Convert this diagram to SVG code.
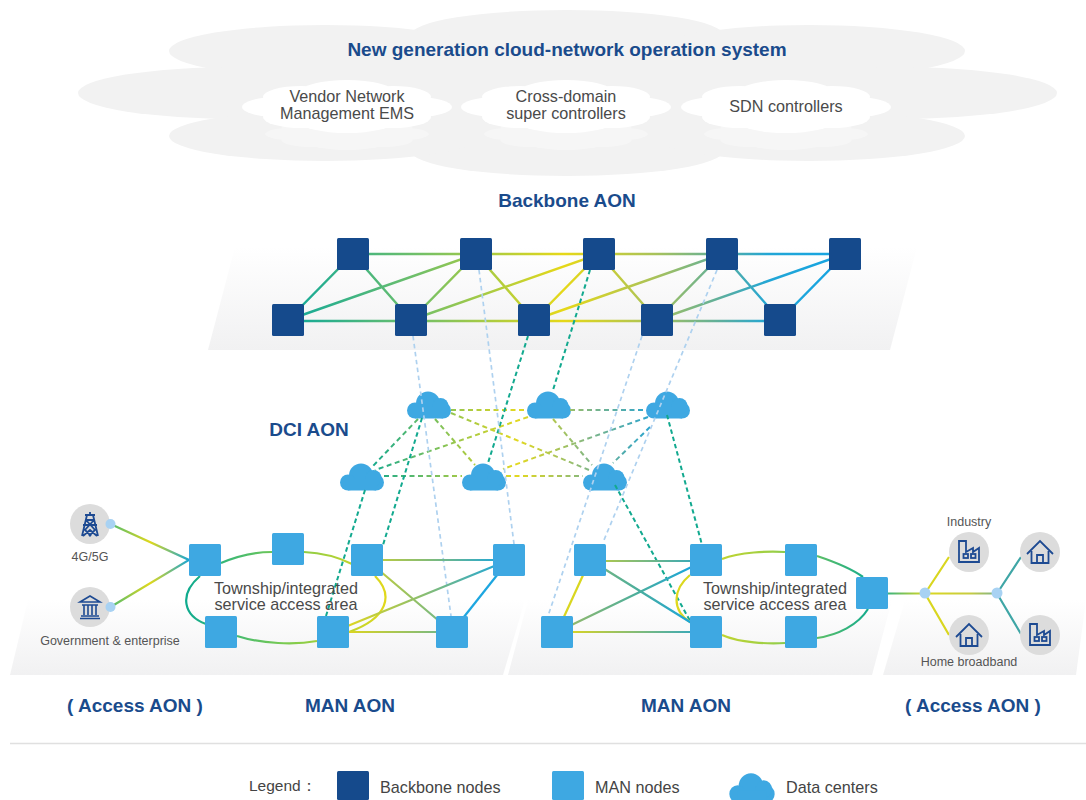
<svg xmlns="http://www.w3.org/2000/svg" width="1086" height="800" viewBox="0 0 1086 800">
<style>
text{font-family:"Liberation Sans",Arial,sans-serif}
.h{font-weight:bold;fill:#1a4b8c;font-size:19px;text-anchor:middle}
.c{fill:#4a4a4a;font-size:16.2px;text-anchor:middle}
.t{fill:#4a4a4a;font-size:16.2px;text-anchor:middle}
.s{fill:#555;font-size:12.5px;text-anchor:middle}
.l{fill:#444;font-size:16.2px}
.bn{fill:#154a8c}
.mn{fill:#3ea8e2}
.dc{fill:#3ea8e2}
.ic{fill:#dcdcdc}
.dot{fill:#a8d2f3}
.ig{fill:none;stroke:#1d4a92;stroke-width:1.8;stroke-linejoin:miter}
.big{fill:#f2f2f2}
.b{fill:none;stroke:url(#gb);stroke-width:2.4}
.d{fill:none;stroke:url(#gd);stroke-width:2;stroke-dasharray:5 3.5}
.lb{fill:none;stroke:#aed1ef;stroke-width:1.7;stroke-dasharray:4.5 3.5}
.td{fill:none;stroke:#12a98f;stroke-width:2;stroke-dasharray:4.5 3}
.m1{fill:none;stroke:url(#g1);stroke-width:2.2}
.m2{fill:none;stroke:url(#g2);stroke-width:2.2}
.m3{fill:none;stroke:url(#g3);stroke-width:2.2}
</style>
<defs>
<linearGradient id="gb" gradientUnits="userSpaceOnUse" x1="290" y1="0" x2="860" y2="0">
<stop offset="0" stop-color="#10a99a"/><stop offset=".22" stop-color="#6fbf6a"/><stop offset=".48" stop-color="#e6d818"/><stop offset=".64" stop-color="#a9c25a"/><stop offset=".76" stop-color="#5aaea0"/><stop offset=".84" stop-color="#22a6d6"/><stop offset="1" stop-color="#12a4e6"/>
</linearGradient>
<linearGradient id="gd" gradientUnits="userSpaceOnUse" x1="370" y1="0" x2="665" y2="0">
<stop offset="0" stop-color="#12a98f"/><stop offset=".3" stop-color="#9ec84a"/><stop offset=".5" stop-color="#e2d820"/><stop offset=".75" stop-color="#7db587"/><stop offset="1" stop-color="#16a0e0"/>
</linearGradient>
<linearGradient id="g1" gradientUnits="userSpaceOnUse" x1="188" y1="0" x2="384" y2="0">
<stop offset="0" stop-color="#10ab8e"/><stop offset=".5" stop-color="#7ccb50"/><stop offset="1" stop-color="#e0d81c"/>
</linearGradient>
<linearGradient id="g2" gradientUnits="userSpaceOnUse" x1="340" y1="0" x2="510" y2="0">
<stop offset="0" stop-color="#e6d818"/><stop offset=".5" stop-color="#88bd72"/><stop offset="1" stop-color="#12a4e6"/>
</linearGradient>
<linearGradient id="g3" gradientUnits="userSpaceOnUse" x1="676" y1="0" x2="870" y2="0">
<stop offset="0" stop-color="#e0d81c"/><stop offset=".5" stop-color="#9bcf46"/><stop offset="1" stop-color="#12ab8e"/>
</linearGradient>
<linearGradient id="g4" gradientUnits="userSpaceOnUse" x1="560" y1="0" x2="705" y2="0">
<stop offset="0" stop-color="#e6d818"/><stop offset=".5" stop-color="#88bd72"/><stop offset="1" stop-color="#2aa5c6"/>
</linearGradient>
<linearGradient id="g5" gradientUnits="userSpaceOnUse" x1="560" y1="0" x2="700" y2="0">
<stop offset="0" stop-color="#9dbb64"/><stop offset=".55" stop-color="#4cae9c"/><stop offset="1" stop-color="#12a4e6"/>
</linearGradient>
<linearGradient id="g6" gradientUnits="userSpaceOnUse" x1="110" y1="0" x2="190" y2="0">
<stop offset="0" stop-color="#4dbb72"/><stop offset=".5" stop-color="#e0d81c"/><stop offset="1" stop-color="#14a4d8"/>
</linearGradient>
<linearGradient id="g7" gradientUnits="userSpaceOnUse" x1="888" y1="0" x2="997" y2="0">
<stop offset="0" stop-color="#3cb47e"/><stop offset=".35" stop-color="#dcd820"/><stop offset=".75" stop-color="#c8cc40"/><stop offset="1" stop-color="#7cb38c"/>
</linearGradient>
<linearGradient id="pl" x1="0" y1="0" x2="0" y2="1">
<stop offset="0" stop-color="#fff"/><stop offset="1" stop-color="#f1f1f2"/>
</linearGradient>
<g id="dcc">
<circle cx="-1" cy="-1.5" r="12"/><circle cx="-14" cy="5.5" r="8"/><circle cx="14" cy="5.5" r="8"/><circle cx="11.5" cy="1" r="8"/><rect x="-14" y="2" width="28" height="11.5"/>
</g>
<g id="wc">
<ellipse cx="-69" cy="0" rx="36" ry="10"/><ellipse cx="69" cy="0" rx="36" ry="10"/><ellipse cx="0" cy="0" rx="82" ry="18"/><ellipse cx="-46" cy="-10" rx="38" ry="11"/><ellipse cx="46" cy="-10" rx="38" ry="11"/><ellipse cx="0" cy="-15" rx="46" ry="12"/><ellipse cx="-46" cy="10" rx="38" ry="11"/><ellipse cx="46" cy="10" rx="38" ry="11"/><ellipse cx="0" cy="15" rx="46" ry="11"/>
</g>
<g id="factory" class="ig">
<path d="M-9 -12V9H11V-5L5 -1V-5L-2 -1V-12Z"/><rect x="-4.500" y="1" width="4.500" height="4"/><rect x="3" y="1" width="4.500" height="4"/>
</g>
<g id="house" class="ig">
<path d="M-13 2L0 -11L13 2"/><path d="M-8.500 -1V11H8.500V-1"/><path d="M-3 11V3H3V11"/>
</g>
</defs>
<rect width="1086" height="800" fill="#fff"/>

<g id="os-cloud">
<g class="big">
<ellipse cx="567" cy="35" rx="156" ry="25"/><ellipse cx="567" cy="151" rx="156" ry="25"/>
<ellipse cx="325" cy="51" rx="156" ry="26"/><ellipse cx="809" cy="51" rx="156" ry="26"/>
<ellipse cx="240" cy="93" rx="162" ry="26"/><ellipse cx="895" cy="93" rx="162" ry="26"/>
<ellipse cx="325" cy="136" rx="156" ry="25"/><ellipse cx="809" cy="136" rx="156" ry="25"/>
<rect x="300" y="50" width="530" height="90"/>
</g>
<g fill="#fff" opacity=".35">
<use href="#wc" transform="translate(347,134) scale(.78,.62)"/><use href="#wc" transform="translate(566,134) scale(.78,.62)"/><use href="#wc" transform="translate(786,134) scale(.78,.62)"/>
</g>
<g fill="#fff"><use href="#wc" x="347" y="107"/><use href="#wc" x="566" y="107"/><use href="#wc" x="786" y="107"/></g>
<text class="h" x="567" y="56">New generation cloud-network operation system</text>
<text class="c"><tspan x="347" y="102">Vendor Network</tspan><tspan x="347" y="119">Management EMS</tspan></text>
<text class="c"><tspan x="566" y="102">Cross-domain</tspan><tspan x="566" y="119">super controllers</tspan></text>
<text class="c" x="786" y="112">SDN controllers</text>
</g>

<g id="planes">
<polygon points="235,247 917,247 890,350 208,350" fill="url(#pl)"/>
<polygon points="28,600 525,600 503,675 10,675" fill="url(#pl)"/>
<polygon points="528,600 892,600 872,675 508,675" fill="url(#pl)"/>
<polygon points="905,600 1086,600 1076,675 883,675" fill="url(#pl)"/>
</g>

<g id="dc-1" class="dc"><use href="#dcc" x="429" y="405"/></g>
<g id="dc-2" class="dc"><use href="#dcc" x="549" y="405"/></g>
<g id="dc-3" class="dc"><use href="#dcc" x="668" y="405"/></g>
<g id="dc-4" class="dc"><use href="#dcc" x="362" y="477"/></g>
<g id="dc-5" class="dc"><use href="#dcc" x="484" y="477"/></g>
<g id="dc-6" class="dc"><use href="#dcc" x="605" y="477"/></g>

<g id="connectors">
<path class="b" d="M353 254H845M288 321H780M288 320L353 254L411 320L476 254L534 320L599 254L657 320L722 254L780 320L845 254M288 320L476 254M411 320L599 254M534 320L722 254M657 320L845 254"/>
<path class="d" d="M451 410H527M570 410H646M384 476H462M506 476H583M418 419L372 467M435 419L475 465M451 413L589 470M528 417L375 470M553 419L592 465M648 417L503 469M650 427L613 463"/>
<path class="td" d="M528 336L488 463M590 270L553 390M422 418L383 545M365 490L326 616M667 415L705 556M615 485L694 628"/>
<path class="lb" d="M413 336L451 616M479 270L514 544M642 336L548 616M717 270L604 540"/>
<path class="m1" d="M221 563C240 555 258 552 272 552M304 552C325 553 340 558 352 564M375 576C394 595 388 618 349 632M237 636C262 644 295 645 317 641M200 576C178 595 184 616 206 624"/>
<path class="m2" d="M367 560H509M367 560L452 632M333 632H452M333 632L509 560"/>
<path fill="none" stroke="#1da6e0" stroke-width="2.200" d="M452 632L509 560"/>
<path class="m3" d="M722 559C740 552 768 551 785 552M817 556C835 562 852 569 863 577M868 609C858 625 838 635 817 638M722 635C740 643 768 644 785 643M690 575C672 590 672 610 690 622"/>
<path fill="none" stroke="url(#g4)" stroke-width="2.200" d="M590 561H706M557 632H706"/>
<path fill="none" stroke="#d9d61f" stroke-width="2.200" d="M590 560L557 632"/>
<path fill="none" stroke="url(#g5)" stroke-width="2.200" d="M557 632L706 560M590 560L706 632"/>
<path fill="none" stroke="url(#g6)" stroke-width="2.200" d="M110.500 524L189 560L110.500 607"/>
<path fill="none" stroke="url(#g7)" stroke-width="2.200" d="M888 593.500H997"/>
<path fill="none" stroke="#d9d61f" stroke-width="2.200" d="M925 593.500L949 557M925 593.500L949 635"/>
<path fill="none" stroke="#3fa6a6" stroke-width="2.200" d="M997 593.500L1021 557M997 593.500L1021 634"/>
</g>

<g class="bn">
<rect id="bb-t1" x="337" y="238" width="32" height="32" rx="1.500"/>
<rect id="bb-t2" x="460" y="238" width="32" height="32" rx="1.500"/>
<rect id="bb-t3" x="583" y="238" width="32" height="32" rx="1.500"/>
<rect id="bb-t4" x="706" y="238" width="32" height="32" rx="1.500"/>
<rect id="bb-t5" x="829" y="238" width="32" height="32" rx="1.500"/>
<rect id="bb-b1" x="272" y="304" width="32" height="32" rx="1.500"/>
<rect id="bb-b2" x="395" y="304" width="32" height="32" rx="1.500"/>
<rect id="bb-b3" x="518" y="304" width="32" height="32" rx="1.500"/>
<rect id="bb-b4" x="641" y="304" width="32" height="32" rx="1.500"/>
<rect id="bb-b5" x="764" y="304" width="32" height="32" rx="1.500"/>
</g>
<g class="mn">
<rect id="man-1" x="189" y="544" width="32" height="32" rx="1.500"/>
<rect id="man-2" x="272" y="533" width="32" height="32" rx="1.500"/>
<rect id="man-3" x="351" y="544" width="32" height="32" rx="1.500"/>
<rect id="man-4" x="493" y="544" width="32" height="32" rx="1.500"/>
<rect id="man-5" x="205" y="616" width="32" height="32" rx="1.500"/>
<rect id="man-6" x="317" y="616" width="32" height="32" rx="1.500"/>
<rect id="man-7" x="436" y="616" width="32" height="32" rx="1.500"/>
<rect id="man-8" x="574" y="544" width="32" height="32" rx="1.500"/>
<rect id="man-9" x="690" y="544" width="32" height="32" rx="1.500"/>
<rect id="man-10" x="785" y="544" width="32" height="32" rx="1.500"/>
<rect id="man-11" x="541" y="616" width="32" height="32" rx="1.500"/>
<rect id="man-12" x="690" y="616" width="32" height="32" rx="1.500"/>
<rect id="man-13" x="785" y="616" width="32" height="32" rx="1.500"/>
<rect id="man-14" x="856" y="577" width="32" height="32" rx="1.500"/>
</g>

<g id="access-5g">
<circle class="ic" cx="90" cy="524" r="20"/><circle class="dot" cx="110.500" cy="524" r="5"/>
<path fill="none" stroke="#1d4a92" stroke-width="1.800" d="M90 512V515M85 515H95M86 520H94M83 525H97M87 515L82 536M93 515L98 536M86 520L95 530L89 536M94 520L85 530L91 536M83 536L90 530L97 536"/>
<text class="s" x="90" y="561">4G/5G</text>
</g>
<g id="access-gov">
<circle class="ic" cx="90" cy="607" r="20"/><circle class="dot" cx="110.500" cy="607" r="5"/>
<path fill="none" stroke="#1d4a92" stroke-width="1.600" d="M80 602L90 596L100 602ZM82 605H98M84 605V615M88 605V615M92 605V615M96 605V615M81 616H99M80 618.500H100"/>
<text class="s" x="110" y="645">Government &amp; enterprise</text>
</g>
<g id="access-industry">
<circle class="ic" cx="969" cy="552" r="20"/><use href="#factory" x="968" y="553"/>
<text class="s" x="969" y="526">Industry</text>
</g>
<g id="access-home1">
<circle class="ic" cx="1040" cy="552" r="20"/><use href="#house" x="1040" y="552"/>
</g>
<g id="access-home2">
<circle class="ic" cx="969" cy="635" r="20"/><use href="#house" x="969" y="635"/>
<text class="s" x="969" y="666">Home broadband</text>
</g>
<g id="access-industry2">
<circle class="ic" cx="1040" cy="635" r="20"/><use href="#factory" x="1039" y="636"/>
</g>
<circle class="dot" cx="925" cy="593" r="5.500"/><circle class="dot" cx="997" cy="593" r="5.500"/>

<text class="t" x="286" y="594">Township/integrated</text>
<text class="t" x="286" y="610">service access area</text>
<text class="t" x="775" y="594">Township/integrated</text>
<text class="t" x="775" y="610">service access area</text>

<text class="h" x="567" y="207">Backbone AON</text>
<text class="h" x="309" y="436">DCI AON</text>
<text class="h" x="135" y="712">( Access AON )</text>
<text class="h" x="350" y="712">MAN AON</text>
<text class="h" x="686" y="712">MAN AON</text>
<text class="h" x="973" y="712">( Access AON )</text>

<line x1="10" y1="743.500" x2="1086" y2="743.500" stroke="#e0e0e0" stroke-width="1.500"/>
<g id="legend">
<text class="l" x="249" y="791" style="font-size:15.5px">Legend：</text>
<rect class="bn" x="337" y="771" width="32" height="29" rx="1.500"/>
<text class="l" x="380" y="793">Backbone nodes</text>
<rect class="mn" x="552" y="771" width="32" height="29" rx="1.500"/>
<text class="l" x="595" y="793">MAN nodes</text>
<g class="dc"><use href="#dcc" transform="translate(752,788) scale(1.03,1.1)"/></g>
<text class="l" x="786" y="793">Data centers</text>
</g>
</svg>
